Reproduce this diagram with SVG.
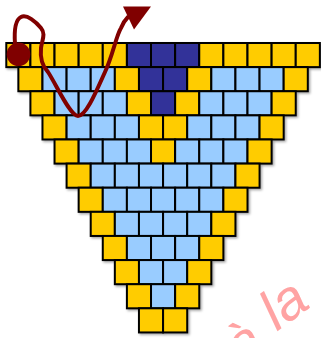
<svg xmlns="http://www.w3.org/2000/svg" width="321" height="338" viewBox="0 0 321 338">
<style>
.y{fill:#FFCC00}
.l{fill:#99CCFF}
.d{fill:#333399}
.cell{stroke:#000;stroke-width:2}
.thread{fill:none;stroke:#800000;stroke-width:4;stroke-linecap:round;stroke-linejoin:round}
.wm{font-family:"Liberation Sans",Arial,sans-serif;font-style:italic;font-size:56px;fill:#ffa3a3}
</style>
<defs>
<rect id="c" class="cell" width="24.12" height="24.12"/>
<filter id="sh" x="-5%" y="-5%" width="110%" height="110%">
<feDropShadow dx="1.5" dy="1.5" stdDeviation="0.8" flood-color="#000" flood-opacity="0.35"/>
</filter>
</defs>
<rect width="321" height="338" fill="#fff"/>
<g id="watermark">
<text class="wm" transform="translate(242,367) rotate(-36)">à</text>
<text class="wm" transform="translate(276.7,331.7) rotate(-36)">la</text>
</g>
<g id="grid" filter="url(#sh)">
<g id="row0">
<use href="#c" class="y" x="6.3" y="43"/><use href="#c" class="y" x="30.42" y="43"/><use href="#c" class="y" x="54.54" y="43"/><use href="#c" class="y" x="78.66" y="43"/><use href="#c" class="y" x="102.78" y="43"/><use href="#c" class="d" x="126.9" y="43"/><use href="#c" class="d" x="151.02" y="43"/><use href="#c" class="d" x="175.14" y="43"/><use href="#c" class="y" x="199.26" y="43"/><use href="#c" class="y" x="223.38" y="43"/><use href="#c" class="y" x="247.5" y="43"/><use href="#c" class="y" x="271.62" y="43"/><use href="#c" class="y" x="295.74" y="43"/>
</g>
<g id="row1">
<use href="#c" class="y" x="18.36" y="67.12"/><use href="#c" class="l" x="42.48" y="67.12"/><use href="#c" class="l" x="66.6" y="67.12"/><use href="#c" class="l" x="90.72" y="67.12"/><use href="#c" class="y" x="114.84" y="67.12"/><use href="#c" class="d" x="138.96" y="67.12"/><use href="#c" class="d" x="163.08" y="67.12"/><use href="#c" class="y" x="187.2" y="67.12"/><use href="#c" class="l" x="211.32" y="67.12"/><use href="#c" class="l" x="235.44" y="67.12"/><use href="#c" class="l" x="259.56" y="67.12"/><use href="#c" class="y" x="283.68" y="67.12"/>
</g>
<g id="row2">
<use href="#c" class="y" x="30.42" y="91.24"/><use href="#c" class="l" x="54.54" y="91.24"/><use href="#c" class="l" x="78.66" y="91.24"/><use href="#c" class="l" x="102.78" y="91.24"/><use href="#c" class="y" x="126.9" y="91.24"/><use href="#c" class="d" x="151.02" y="91.24"/><use href="#c" class="y" x="175.14" y="91.24"/><use href="#c" class="l" x="199.26" y="91.24"/><use href="#c" class="l" x="223.38" y="91.24"/><use href="#c" class="l" x="247.5" y="91.24"/><use href="#c" class="y" x="271.62" y="91.24"/>
</g>
<g id="row3">
<use href="#c" class="y" x="42.48" y="115.36"/><use href="#c" class="l" x="66.6" y="115.36"/><use href="#c" class="l" x="90.72" y="115.36"/><use href="#c" class="l" x="114.84" y="115.36"/><use href="#c" class="y" x="138.96" y="115.36"/><use href="#c" class="y" x="163.08" y="115.36"/><use href="#c" class="l" x="187.2" y="115.36"/><use href="#c" class="l" x="211.32" y="115.36"/><use href="#c" class="l" x="235.44" y="115.36"/><use href="#c" class="y" x="259.56" y="115.36"/>
</g>
<g id="row4">
<use href="#c" class="y" x="54.54" y="139.48"/><use href="#c" class="l" x="78.66" y="139.48"/><use href="#c" class="l" x="102.78" y="139.48"/><use href="#c" class="l" x="126.9" y="139.48"/><use href="#c" class="y" x="151.02" y="139.48"/><use href="#c" class="l" x="175.14" y="139.48"/><use href="#c" class="l" x="199.26" y="139.48"/><use href="#c" class="l" x="223.38" y="139.48"/><use href="#c" class="y" x="247.5" y="139.48"/>
</g>
<g id="row5">
<use href="#c" class="y" x="66.6" y="163.6"/><use href="#c" class="l" x="90.72" y="163.6"/><use href="#c" class="l" x="114.84" y="163.6"/><use href="#c" class="l" x="138.96" y="163.6"/><use href="#c" class="l" x="163.08" y="163.6"/><use href="#c" class="l" x="187.2" y="163.6"/><use href="#c" class="l" x="211.32" y="163.6"/><use href="#c" class="y" x="235.44" y="163.6"/>
</g>
<g id="row6">
<use href="#c" class="y" x="78.66" y="187.72"/><use href="#c" class="l" x="102.78" y="187.72"/><use href="#c" class="l" x="126.9" y="187.72"/><use href="#c" class="l" x="151.02" y="187.72"/><use href="#c" class="l" x="175.14" y="187.72"/><use href="#c" class="l" x="199.26" y="187.72"/><use href="#c" class="y" x="223.38" y="187.72"/>
</g>
<g id="row7">
<use href="#c" class="y" x="90.72" y="211.84"/><use href="#c" class="l" x="114.84" y="211.84"/><use href="#c" class="l" x="138.96" y="211.84"/><use href="#c" class="l" x="163.08" y="211.84"/><use href="#c" class="l" x="187.2" y="211.84"/><use href="#c" class="y" x="211.32" y="211.84"/>
</g>
<g id="row8">
<use href="#c" class="y" x="102.78" y="235.96"/><use href="#c" class="l" x="126.9" y="235.96"/><use href="#c" class="l" x="151.02" y="235.96"/><use href="#c" class="l" x="175.14" y="235.96"/><use href="#c" class="y" x="199.26" y="235.96"/>
</g>
<g id="row9">
<use href="#c" class="y" x="114.84" y="260.08"/><use href="#c" class="l" x="138.96" y="260.08"/><use href="#c" class="l" x="163.08" y="260.08"/><use href="#c" class="y" x="187.2" y="260.08"/>
</g>
<g id="row10">
<use href="#c" class="y" x="126.9" y="284.2"/><use href="#c" class="l" x="151.02" y="284.2"/><use href="#c" class="y" x="175.14" y="284.2"/>
</g>
<g id="row11">
<use href="#c" class="y" x="138.96" y="308.32"/><use href="#c" class="y" x="163.08" y="308.32"/>
</g>
</g>
<g id="connectors">
<circle id="start" cx="18.5" cy="54.3" r="11.8" fill="#800000"/>
<path class="thread" d="M15,44 C14,30 15,20 21,17 C27,14 36,22 41,28 C46,34 42,40 41,48 C40,58 42,66 48,72 C56,84 70,116 78,116 C86,116 96,92 105,72 C113,55 116,36 121,28 C123,23 125,20 128,17"/>
<polygon id="arrow" points="123,6.5 151,6.5 134,29.5" fill="#800000"/>
</g>
</svg>
